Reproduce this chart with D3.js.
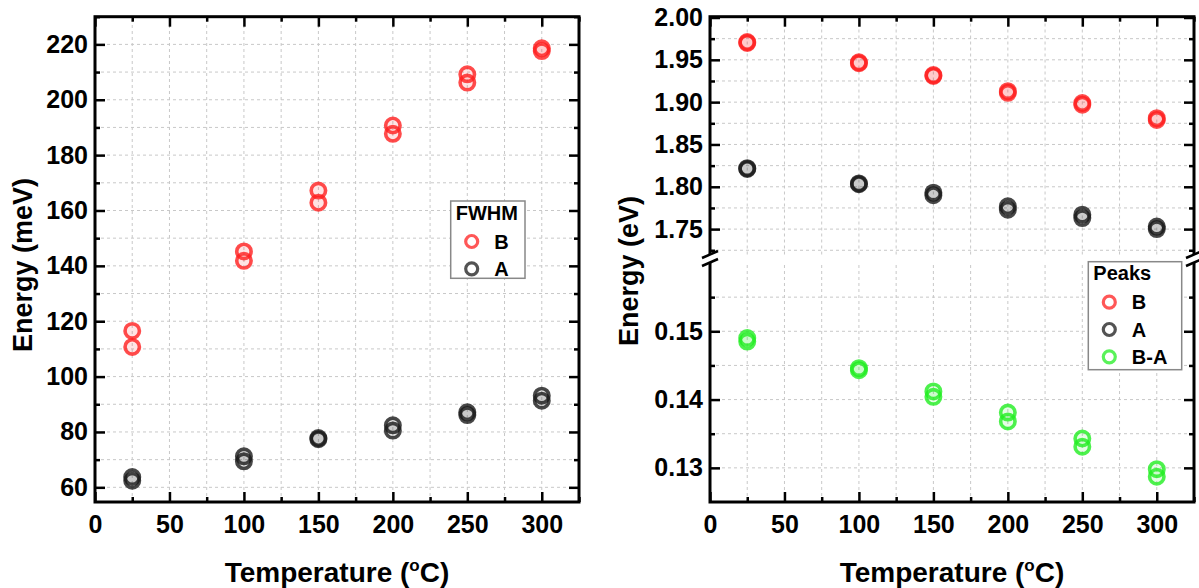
<!DOCTYPE html>
<html lang="en">
<head>
    <meta charset="UTF-8">
    <script src="https://cdn.jsdelivr.net/npm/d3@7"></script>
    <title>Energy vs temperature</title>
    <style>
        * { margin: 0; padding: 0; box-sizing: border-box; }
        body { background: white; }
        svg text { font-family: "Liberation Sans", Arial, sans-serif; font-weight: bold; fill: black; }
    </style>
</head>
<body>
    <svg width="1199" height="588"></svg>
    <script>
        // temperatures (°C)
        let temps = [25, 100, 150, 200, 250, 300]

        // left panel: FWHM (meV), two fits per temperature
        let fwhmB1 = [116.5, 145.2, 167.2, 190.7, 209.2, 218.6]
        let fwhmB2 = [110.7, 141.8, 162.8, 187.7, 206.2, 217.6]
        let fwhmA1 = [63.7, 71.2, 77.8, 82.4, 87.1, 93.1]
        let fwhmA2 = [62.4, 69.4, 77.4, 80.5, 86.1, 91.3]

        // right panel: peak positions (eV)
        let peakB1 = [1.971, 1.947, 1.932, 1.913, 1.899, 1.881]
        let peakB2 = [1.970, 1.946, 1.931, 1.911, 1.897, 1.879]
        let peakA1 = [1.822, 1.804, 1.793, 1.777, 1.767, 1.753]
        let peakA2 = [1.821, 1.803, 1.790, 1.773, 1.763, 1.750]
        let diff1 = [0.1490, 0.1446, 0.1412, 0.1381, 0.1343, 0.1298]
        let diff2 = [0.1485, 0.1443, 0.1404, 0.1368, 0.1331, 0.1287]

        let xTicks = [0, 50, 100, 150, 200, 250, 300]
        let xMinor = [25, 75, 125, 175, 225, 275, 325]
        let yTicksL = [60, 80, 100, 120, 140, 160, 180, 200, 220]
        let yMinorL = [70, 90, 110, 130, 150, 170, 190, 210, 230]
        let yTicksUp = [1.75, 1.80, 1.85, 1.90, 1.95, 2.00]
        let yMinorUp = [1.725, 1.775, 1.825, 1.875, 1.925, 1.975]
        let yTicksLo = [0.13, 0.14, 0.15]
        let yMinorLo = [0.135, 0.145, 0.155]

        let RED = '#ff1f1f', BLACK = '#1a1a1a', GREEN = '#22ee22'

        let svg = d3.select('svg')
        let yTop = 16.7, yBot = 502

        let xL = d3.scaleLinear().domain([0, 325]).range([95, 579])
        let yL = d3.scaleLinear().domain([54.7, 230]).range([yBot, yTop])
        let xR = d3.scaleLinear().domain([0, 325]).range([710, 1194])
        let yUp = d3.scaleLinear().domain([1.72, 2.0]).range([254.5, 17.5])
        let yLo = d3.scaleLinear().domain([0.125, 0.16]).range([yBot, 263])

        function styleAxis(g) {
            g.select('.domain').remove()
            g.selectAll('line').attr('stroke', 'black').attr('stroke-width', 2.5)
            g.selectAll('text').attr('font-size', 25).attr('fill', 'black')
        }

        function grid(x, y, xs, ys, yRange) {
            let g = svg.append('g')
                .attr('stroke', '#c8c8c8').attr('stroke-width', 1).attr('stroke-dasharray', '3,3')
            g.selectAll('.gx').data(xs).join('line').attr('class', 'gx')
                .attr('x1', d => x(d)).attr('x2', d => x(d))
                .attr('y1', yRange[0]).attr('y2', yRange[1])
            g.selectAll('.gy').data(ys).join('line').attr('class', 'gy')
                .attr('x1', x.range()[0]).attr('x2', x.range()[1])
                .attr('y1', d => y(d)).attr('y2', d => y(d))
        }

        function xAxes(x) {
            svg.append('g').attr('transform', `translate(0, ${yBot})`)
                .call(d3.axisBottom(x).tickValues(xTicks).tickSize(-10).tickPadding(13))
                .call(styleAxis)
            svg.append('g').attr('transform', `translate(0, ${yBot})`)
                .call(d3.axisBottom(x).tickValues(xMinor).tickSize(-5).tickFormat(''))
                .call(styleAxis)
            svg.append('g').attr('transform', `translate(0, ${yTop})`)
                .call(d3.axisTop(x).tickValues(xTicks).tickSize(-10).tickFormat(''))
                .call(styleAxis)
            svg.append('g').attr('transform', `translate(0, ${yTop})`)
                .call(d3.axisTop(x).tickValues(xMinor).tickSize(-5).tickFormat(''))
                .call(styleAxis)
        }

        function yAxes(x, y, major, minor, fmt) {
            let [x0, x1] = x.range()
            svg.append('g').attr('transform', `translate(${x0}, 0)`)
                .call(d3.axisLeft(y).tickValues(major).tickSize(-10).tickPadding(7).tickFormat(fmt))
                .call(styleAxis)
            svg.append('g').attr('transform', `translate(${x0}, 0)`)
                .call(d3.axisLeft(y).tickValues(minor).tickSize(-5).tickFormat(''))
                .call(styleAxis)
            svg.append('g').attr('transform', `translate(${x1}, 0)`)
                .call(d3.axisRight(y).tickValues(major).tickSize(-10).tickFormat(''))
                .call(styleAxis)
            svg.append('g').attr('transform', `translate(${x1}, 0)`)
                .call(d3.axisRight(y).tickValues(minor).tickSize(-5).tickFormat(''))
                .call(styleAxis)
        }

        function points(x, y, values, color) {
            let data = temps.map((t, i) => ({ t: t, v: values[i] }))
            svg.append('g').selectAll('circle')
                .data(data)
                .join('circle')
                .attr('cx', d => x(d.t))
                .attr('cy', d => y(d.v))
                .attr('r', 7.2)
                .attr('fill', color).attr('fill-opacity', 0.12)
                .attr('stroke', color).attr('stroke-opacity', 0.8)
                .attr('stroke-width', 3.6)
        }

        function xTitle(cx) {
            let t = svg.append('text').attr('x', cx).attr('y', 581.5)
                .attr('text-anchor', 'middle').attr('font-size', 28)
            t.append('tspan').text('Temperature (')
            t.append('tspan').attr('font-size', 17).attr('dy', -11).text('o')
            t.append('tspan').attr('dy', 11).text('C)')
        }

        function yTitle(x, y, label) {
            svg.append('text')
                .attr('transform', `translate(${x}, ${y}) rotate(-90)`)
                .attr('text-anchor', 'middle').attr('font-size', 27)
                .text(label)
        }

        function legend(x, y, w, h, title, items) {
            let g = svg.append('g')
            g.append('rect').attr('x', x).attr('y', y).attr('width', w).attr('height', h)
                .attr('fill', 'white').attr('stroke', '#888').attr('stroke-width', 1.5)
            g.append('text').attr('x', x + 5).attr('y', y + 18.5).attr('font-size', 20).text(title)
            items.forEach((it, i) => {
                let cy = y + 40.5 + i * 27.3
                g.append('circle').attr('cx', x + 21).attr('cy', cy).attr('r', 6)
                    .attr('fill', 'white').attr('stroke', it[1]).attr('stroke-opacity', 0.75)
                    .attr('stroke-width', 3.2)
                g.append('text').attr('x', x + 43.5).attr('y', cy + 7).attr('font-size', 20).text(it[0])
            })
        }

        let xGrid = xTicks.concat(xMinor).filter(d => d > 0 && d < 325)

        // ---- left panel ----
        grid(xL, yL, xGrid, yTicksL.concat(yMinorL).filter(d => d < 230), [yBot, yTop])
        xAxes(xL)
        yAxes(xL, yL, yTicksL, yMinorL, d3.format('d'))
        svg.append('rect').attr('x', 95).attr('y', yTop).attr('width', 579 - 95).attr('height', yBot - yTop)
            .attr('fill', 'none').attr('stroke', 'black').attr('stroke-width', 3)

        points(xL, yL, fwhmB2, RED)
        points(xL, yL, fwhmB1, RED)
        points(xL, yL, fwhmA2, BLACK)
        points(xL, yL, fwhmA1, BLACK)

        legend(450.7, 201, 74.3, 77.3, 'FWHM', [['B', RED], ['A', BLACK]])
        xTitle(337)
        yTitle(31.5, 265, 'Energy (meV)')

        // ---- right panel (broken y axis) ----
        grid(xR, yUp, xGrid, yTicksUp.concat(yMinorUp).filter(d => d < 2), [254.5, yTop])
        grid(xR, yLo, xGrid, yTicksLo.concat(yMinorLo), [yBot, 263])
        xAxes(xR)
        yAxes(xR, yUp, yTicksUp, yMinorUp, d3.format('.2f'))
        yAxes(xR, yLo, yTicksLo, yMinorLo, d3.format('.2f'))
        svg.append('rect').attr('x', 710).attr('y', yTop).attr('width', 1194 - 710).attr('height', yBot - yTop)
            .attr('fill', 'none').attr('stroke', 'black').attr('stroke-width', 3)

        // axis break marks on both sides
        let breakY = 258.5
        xR.range().forEach(bx => {
            svg.append('rect').attr('x', bx - 3).attr('y', breakY - 4).attr('width', 6).attr('height', 8)
                .attr('fill', 'white')
            ;[-4, 4].forEach(off => {
                svg.append('line')
                    .attr('x1', bx - 8).attr('y1', breakY + off + 3.5)
                    .attr('x2', bx + 8).attr('y2', breakY + off - 3.5)
                    .attr('stroke', 'black').attr('stroke-width', 2.5)
            })
        })

        points(xR, yUp, peakB2, RED)
        points(xR, yUp, peakB1, RED)
        points(xR, yUp, peakA2, BLACK)
        points(xR, yUp, peakA1, BLACK)
        points(xR, yLo, diff2, GREEN)
        points(xR, yLo, diff1, GREEN)

        legend(1088.3, 261.7, 93.4, 108, 'Peaks', [['B', RED], ['A', BLACK], ['B-A', GREEN]])
        xTitle(952)
        yTitle(638, 271, 'Energy (eV)')
    </script>
</body>
</html>
